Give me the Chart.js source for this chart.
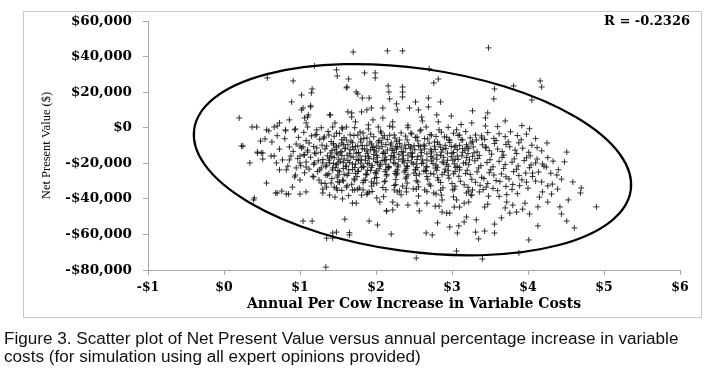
<!DOCTYPE html>
<html>
<head>
<meta charset="utf-8">
<script src="https://cdn.jsdelivr.net/npm/chart.js@4.4.1/dist/chart.umd.min.js"></script>
<style>
  html, body { margin: 0; padding: 0; background: #ffffff; }
  #wrap { position: relative; width: 710px; height: 379px; overflow: hidden; }
  #frame { position: absolute; left: 23px; top: 11px; width: 677px; height: 305px; border: 1px solid #c9c9c9; }
  #chart { position: absolute; left: 0; top: 0; }
  #caption { position: absolute; left: 4px; top: 330px; width: 680px; white-space: nowrap; font-family: "Liberation Sans", Arial, sans-serif; font-size: 16px; line-height: 18.4px; color: #111; transform: scaleX(1.07); transform-origin: 0 0; }
</style>
</head>
<body>
<div id="wrap">
  <div id="frame"></div>
  <canvas id="chart" width="710" height="379"></canvas>
  <div id="caption">Figure 3. Scatter plot of Net Present Value versus annual percentage increase in variable<br>costs (for simulation using all expert opinions provided)</div>
</div>
<script>
// ---- Data (x: annual per cow increase in variable costs, $; y: NPV in $ thousands) ----
const xTicks = [-1, 0, 1, 2, 3, 4, 5, 6];
const yTicks = [-80000, -60000, -40000, -20000, 0, 20000, 40000, 60000];
const correlationLabel = "R = -0.2326";

const upperPoints = [
  [1.70,42.6],[2.15,43.2],[2.35,43.2],[3.48,44.9],[1.85,30.8],[1.99,30.8],[1.99,28.0],[2.70,33.1],
  [2.82,27.4],[2.76,25.2],[4.16,26.3],[4.18,22.9],[3.81,23.5],[3.56,21.8],[4.05,15.6],[3.55,16.2],
  [1.48,32.5],[1.49,29.1],[1.64,27.4],[1.62,22.9],[1.74,20.1],[1.19,34.8],[0.57,28.0],[0.91,26.3],
  [1.16,21.8],[1.15,19.6],[1.02,18.4],[0.89,14.5],[1.14,12.3],[1.02,10.0],[0.20,5.5],[1.10,6.0],
  [1.40,7.2],[1.68,8.3],[1.73,3.3],[0.37,0.4],[0.43,0.4],[0.56,-1.2],[0.66,0.4],[0.73,2.7],
  [0.81,-1.2],[0.93,-1.2],[1.61,22.4],[2.16,23.5],[2.17,20.1],[2.35,22.9],[2.35,20.1],[2.35,17.3],
  [1.76,19.0],[1.82,16.7],[1.91,16.7],[2.18,16.2],[2.27,13.4],[2.28,10.0],[2.52,14.5],[2.69,16.7],
  [2.85,14.5],[2.44,11.1],[2.56,10.0],[2.69,11.7],[2.09,11.1],[1.94,11.1],[1.88,10.0],[1.81,8.9],
  [1.63,8.9],[1.68,6.0],[1.96,4.4],[2.09,5.5],[2.22,3.3],[2.60,6.0],[2.61,3.8],[2.80,7.2],
  [2.82,3.3],[2.99,6.6],[3.27,9.5],[3.26,2.7],[3.44,5.5],[3.47,8.3],[3.44,1.0],[1.04,11.1],
  [1.14,11.7],[0.86,4.4],[1.06,5.5],[1.11,7.2],[1.08,2.7],[1.10,0.4],[1.39,7.2],[1.46,2.7],
  [1.43,0.4],[1.22,-1.2],[1.28,0.0],[0.70,1.0],[0.94,-0.7],[0.59,-1.8],[0.81,-1.8],[3.70,3.8],
  [3.92,1.2],[4.02,-0.6],[3.60,0.6],[3.12,1.8],[2.95,0.2],[2.42,1.4],[2.18,0.9],[1.90,1.6]
];

const topBandPoints = [
  [1.56,-0.7],[1.61,0.4],[1.72,0.0],[1.76,-4.1],[1.61,-6.9],[1.55,-8.6],[1.69,-10.8],[1.83,-3.0],
  [1.90,-0.7],[2.03,0.4],[2.07,-3.0],[2.09,-5.8],[2.03,-8.0],[1.96,-10.8],[1.88,-5.8],[1.80,-8.0],
  [2.22,0.4],[2.24,-4.1],[2.31,-6.9],[2.20,-8.6],[2.28,-10.8],[2.42,0.0],[2.46,-3.0],[2.54,-5.2],
  [2.59,-1.2],[2.66,0.4],[2.73,-4.1],[2.77,-8.0],[2.64,-10.3],[2.46,-10.8],[2.83,-1.2],[2.90,-5.2],
  [2.97,-6.9],[3.03,-10.8],[3.10,-4.1],[3.14,-6.9],[3.20,-10.8],[3.06,-1.2],[3.32,-6.9],[3.39,-5.8],
  [3.45,-10.8],[1.55,0.0],[1.20,-4.1],[1.32,-5.2],[1.38,-4.1],[1.48,-3.0],[0.48,-7.5],[0.54,-6.3],
  [0.63,-8.0],[0.25,-10.3],[0.73,-12.0],[0.86,-10.8],[1.00,-10.3],[1.04,-10.8],[1.22,-11.4],[1.35,-10.3],
  [1.44,-9.7],[0.44,-14.2],[0.49,-14.2],[0.23,-10.3],[0.80,-6.2],[0.70,-4.5]
];

const coreRowsUpper = [
  [1.05,-2.6],[1.22,-3.8],[1.37,-2.1],[1.52,-3.3],[1.66,-4.0],[1.79,-2.4],[1.93,-3.6],[2.06,-2.0],[2.18,-4.2],[2.33,-2.9],
  [2.47,-3.5],[2.58,-1.8],[2.71,-3.9],[2.86,-2.5],[3.02,-3.1],[3.18,-2.2],[3.31,-4.1],[3.47,-2.7],[3.62,-3.4],[3.77,-2.3],
  [0.98,-5.4],[1.15,-4.6],[1.31,-5.9],[1.45,-4.8],[1.58,-5.6],[1.71,-4.4],[1.84,-6.0],[1.97,-5.1],[2.11,-4.5],[2.25,-5.8],
  [2.39,-4.7],[2.52,-5.5],[2.64,-6.1],[2.79,-4.9],[2.93,-5.3],[3.08,-4.3],[3.24,-5.7],[3.39,-4.6],[3.55,-6.0],[3.70,-5.0],[3.86,-4.4],
  [1.08,-7.3],[1.26,-6.5],[1.41,-7.8],[1.55,-6.8],[1.67,-7.5],[1.80,-6.4],[1.92,-8.0],[2.04,-7.1],[2.15,-6.6],[2.27,-7.7],
  [2.41,-6.9],[2.55,-7.4],[2.68,-6.3],[2.81,-8.1],[2.96,-7.0],[3.12,-6.7],[3.27,-7.9],[3.43,-6.6],[3.58,-7.2],[3.74,-8.0],[3.91,-6.8],
  [0.95,-9.2],[1.12,-8.6],[1.29,-9.8],[1.44,-8.9],[1.57,-9.5],[1.69,-8.4],[1.82,-10.0],[1.94,-9.1],[2.07,-8.5],[2.19,-9.7],
  [2.31,-8.8],[2.43,-9.4],[2.56,-10.1],[2.70,-8.7],[2.83,-9.3],[2.97,-8.3],[3.10,-9.9],[3.25,-8.6],[3.40,-9.6],[3.56,-8.9],
  [3.71,-9.4],[3.88,-8.5],[4.05,-9.8],
  [1.02,-11.4],[1.18,-10.6],[1.33,-11.9],[1.48,-10.8],[1.60,-11.6],[1.73,-10.5],[1.85,-12.0],[1.96,-11.2],[2.08,-10.7],[2.21,-11.8],
  [2.33,-10.9],[2.45,-11.5],[2.58,-10.4],[2.72,-12.1],[2.85,-11.0],[2.99,-10.6],[3.14,-11.7],[3.28,-10.8],[3.44,-11.3],[3.60,-12.0],
  [3.76,-10.7],[3.93,-11.5],
  [0.91,-13.3],[1.10,-12.6],[1.27,-13.8],[1.42,-12.9],[1.55,-13.5],[1.66,-12.4],[1.77,-14.0],[1.88,-13.1],[1.98,-12.7],[2.10,-13.7],
  [2.22,-12.8],[2.34,-13.4],[2.46,-14.1],[2.59,-12.5],[2.73,-13.2],[2.88,-12.3],[3.02,-13.9],[3.17,-12.7],[3.33,-13.6],[3.49,-12.9],
  [3.66,-13.4],[3.83,-12.6],[4.01,-13.8],[4.18,-13.0],
  [1.05,-15.2],[1.21,-14.6],[1.36,-15.8],[1.50,-14.8],[1.62,-15.5],[1.74,-14.4],[1.86,-16.0],[1.97,-15.1],[2.09,-14.5],[2.20,-15.7],
  [2.30,-14.9],[2.42,-15.4],[2.55,-16.1],[2.67,-14.7],[2.80,-15.3],[2.94,-14.3],[3.07,-15.9],[3.21,-14.6],[3.36,-15.6],[3.52,-14.9],
  [3.68,-15.4],[3.85,-14.5],[4.03,-15.8]
];

const coreRowsMiddle = [
  [0.97,-17.4],[1.14,-16.6],[1.30,-17.9],[1.45,-16.8],[1.58,-17.6],[1.70,-16.5],[1.81,-18.0],[1.91,-17.2],[2.02,-16.7],[2.13,-17.8],
  [2.24,-16.9],[2.36,-17.5],[2.48,-16.4],[2.61,-18.1],[2.75,-17.0],[2.89,-16.6],[3.04,-17.7],[3.19,-16.8],[3.34,-17.3],[3.50,-18.0],
  [3.66,-16.7],[3.82,-17.5],[3.98,-16.9],[4.12,-17.6],[4.26,-16.8],
  [1.08,-19.3],[1.24,-18.6],[1.39,-19.8],[1.53,-18.9],[1.65,-19.5],[1.77,-18.4],[1.89,-20.0],[2.00,-19.1],[2.11,-18.5],[2.23,-19.7],
  [2.35,-18.8],[2.47,-19.4],[2.60,-20.1],[2.73,-18.7],[2.87,-19.3],[3.01,-18.3],[3.15,-19.9],[3.30,-18.6],[3.46,-19.6],[3.62,-18.9],
  [3.79,-19.4],[3.95,-18.5],[4.10,-19.8],
  [1.01,-21.4],[1.18,-20.6],[1.34,-21.9],[1.48,-20.8],[1.61,-21.6],[1.73,-20.5],[1.84,-22.0],[1.95,-21.2],[2.06,-20.7],[2.17,-21.8],
  [2.29,-20.9],[2.41,-21.5],[2.53,-20.4],[2.66,-22.1],[2.79,-21.0],[2.93,-20.6],[3.07,-21.7],[3.22,-20.8],[3.38,-21.3],[3.54,-22.0],
  [3.70,-20.7],[3.87,-21.5],[4.04,-20.9],[4.21,-21.6],
  [1.12,-23.3],[1.28,-22.6],[1.43,-23.8],[1.57,-22.9],[1.69,-23.5],[1.81,-22.4],[1.93,-24.0],[2.04,-23.1],[2.16,-22.5],[2.28,-23.7],
  [2.40,-22.8],[2.52,-23.4],[2.65,-24.1],[2.78,-22.7],[2.91,-23.3],[3.05,-22.3],[3.20,-23.9],[3.35,-22.6],[3.51,-23.6],[3.68,-22.9],
  [3.85,-23.4],[4.02,-22.5],
  [1.06,-25.4],[1.23,-24.6],[1.38,-25.9],[1.52,-24.8],[1.64,-25.6],[1.76,-24.5],[1.87,-26.0],[1.99,-25.2],[2.12,-24.7],[2.25,-25.8],
  [2.37,-24.9],[2.50,-25.5],[2.63,-24.4],[2.76,-26.1],[2.90,-25.0],[3.04,-24.6],[3.18,-25.7],[3.33,-24.8],[3.49,-25.3],[3.65,-26.0],
  [3.81,-24.7],[3.97,-25.5],[4.14,-24.9],[4.30,-25.6]
];

const coreRowsLower = [
  [1.17,-27.3],[1.34,-26.6],[1.49,-27.8],[1.62,-26.9],[1.75,-27.5],[1.88,-26.4],[2.01,-28.0],[2.14,-27.1],[2.27,-26.5],[2.40,-27.7],
  [2.53,-26.8],[2.67,-27.4],[2.81,-28.1],[2.95,-26.7],[3.09,-27.3],[3.24,-26.3],[3.39,-27.9],[3.55,-26.6],[3.71,-27.6],[3.88,-26.9],[4.06,-27.4],
  [1.25,-29.4],[1.42,-28.6],[1.57,-29.9],[1.71,-28.8],[1.84,-29.6],[1.98,-28.5],[2.12,-30.0],[2.26,-29.2],[2.39,-28.7],[2.53,-29.8],
  [2.68,-28.9],[2.82,-29.5],[2.96,-28.4],[3.11,-30.1],[3.26,-29.0],[3.42,-28.6],[3.58,-29.7],[3.75,-28.8],[3.92,-29.3],[4.10,-30.0],
  [1.33,-31.3],[1.52,-30.6],[1.68,-31.8],[1.83,-30.9],[1.97,-31.5],[2.11,-30.4],[2.26,-32.0],[2.41,-31.1],[2.55,-30.5],[2.70,-31.7],
  [2.85,-30.8],[3.00,-31.4],[3.16,-32.1],[3.31,-30.7],[3.47,-31.3],[3.63,-30.3],[3.80,-31.9],[3.98,-30.6],
  [1.45,-33.4],[1.62,-32.6],[1.78,-33.9],[1.94,-32.8],[2.09,-33.6],[2.24,-32.5],[2.40,-34.0],[2.56,-33.2],[2.72,-32.7],[2.88,-33.8],
  [3.04,-32.9],[3.21,-33.5],[3.37,-32.4],[3.54,-34.1],[3.71,-33.0],[3.89,-32.6],
  [1.55,-35.3],[1.76,-34.6],[1.95,-35.8],[2.13,-34.9],[2.31,-35.5],[2.49,-34.4],[2.67,-36.0],[2.85,-35.1],[3.03,-34.5],[3.22,-35.7],
  [3.41,-34.8],[3.60,-35.4],[3.79,-34.7],
  [1.64,-38.2],[1.88,-37.5],[2.10,-38.8],[2.33,-37.7],[2.56,-38.4],[2.79,-37.3],[3.02,-38.9],[3.25,-37.9],[3.48,-38.5],[3.72,-37.6]
];

const coreDensePoints = [
  [1.51,-10.2],[1.63,-9.6],[1.76,-10.4],[1.88,-9.9],[2.01,-10.3],[2.13,-9.5],[2.26,-10.5],[2.38,-9.8],[2.50,-10.1],[2.63,-9.7],
  [2.77,-10.4],[2.91,-9.9],[3.05,-10.2],[3.19,-9.6],
  [1.46,-12.1],[1.59,-11.7],[1.71,-12.4],[1.82,-11.9],[1.93,-12.3],[2.04,-11.6],[2.15,-12.5],[2.27,-12.0],[2.39,-11.8],[2.51,-12.4],
  [2.64,-11.9],[2.78,-12.2],[2.92,-11.7],[3.07,-12.3],[3.22,-11.8],
  [1.40,-14.2],[1.53,-13.7],[1.65,-14.4],[1.77,-13.9],[1.89,-14.3],[2.00,-13.6],[2.12,-14.5],[2.24,-14.0],[2.36,-13.8],[2.48,-14.4],
  [2.60,-13.9],[2.73,-14.2],[2.86,-13.7],[3.00,-14.3],[3.14,-13.8],[3.29,-14.1],
  [1.42,-16.1],[1.55,-15.7],[1.67,-16.4],[1.79,-15.9],[1.90,-16.3],[2.01,-15.6],[2.12,-16.5],[2.23,-16.0],[2.35,-15.8],[2.47,-16.4],
  [2.59,-15.9],[2.72,-16.2],[2.85,-15.7],[2.99,-16.3],[3.13,-15.8],[3.27,-16.1],
  [1.38,-18.2],[1.51,-17.7],[1.63,-18.4],[1.75,-17.9],[1.86,-18.3],[1.97,-17.6],[2.08,-18.5],[2.19,-18.0],[2.30,-17.8],[2.42,-18.4],
  [2.54,-17.9],[2.67,-18.2],[2.80,-17.7],[2.94,-18.3],[3.08,-17.8],[3.23,-18.1],
  [1.44,-20.1],[1.57,-19.7],[1.69,-20.4],[1.80,-19.9],[1.91,-20.3],[2.02,-19.6],[2.13,-20.5],[2.25,-20.0],[2.37,-19.8],[2.49,-20.4],
  [2.62,-19.9],[2.75,-20.2],[2.89,-19.7],[3.03,-20.3],[3.18,-19.8],
  [1.47,-22.2],[1.60,-21.7],[1.72,-22.4],[1.83,-21.9],[1.94,-22.3],[2.05,-21.6],[2.17,-22.5],[2.29,-22.0],[2.41,-21.8],[2.54,-22.4],
  [2.67,-21.9],[2.81,-22.2],[2.95,-21.7],[3.10,-22.3],
  [1.50,-24.1],[1.64,-23.7],[1.77,-24.4],[1.89,-23.9],[2.01,-24.3],[2.13,-23.6],[2.26,-24.5],[2.39,-24.0],[2.52,-23.8],[2.66,-24.4],
  [2.80,-23.9],[2.95,-24.2],[3.10,-23.7],
  [1.58,-26.2],[1.73,-25.7],[1.87,-26.4],[2.00,-25.9],[2.14,-26.3],[2.28,-25.6],[2.42,-26.5],[2.57,-26.0],[2.72,-25.8],[2.87,-26.4],[3.02,-25.9]
];

const leftLowerPoints = [
  [0.44,-13.7],[0.51,-14.2],[0.62,-15.9],[0.66,-15.9],[0.34,-19.8],[0.51,-17.6],[0.69,-19.8],[0.77,-18.1],
  [0.73,-23.7],[0.82,-23.7],[0.84,-21.6],[0.95,-22.6],[0.94,-26.6],[0.93,-27.7],[1.00,-29.4],[0.56,-31.1],
  [0.68,-36.7],[0.70,-36.7],[0.76,-35.6],[0.82,-37.3],[0.85,-37.3],[0.90,-33.4],[1.00,-37.3],[1.08,-36.1],
  [0.86,-18.1],[0.88,-15.9],[1.00,-15.9],[1.06,-15.4],[1.10,-13.7],[1.19,-14.2],[1.00,-19.8],[1.08,-22.1],
  [1.19,-19.8],[1.18,-27.7],[1.26,-23.7],[1.30,-19.8],[1.35,-21.0],[1.39,-17.0],[1.48,-14.2],[1.43,-22.6],
  [1.36,-26.6],[1.28,-31.1],[1.35,-33.4],[1.41,-31.1],[1.50,-30.5],[1.30,-36.7],[1.39,-37.9],[1.46,-39.0],
  [1.48,-33.9],[1.49,-35.0],[1.30,-34.5],[1.50,-26.6],[1.50,-19.8],[0.39,-40.6],[0.40,-39.5],
  [1.04,-52.5],[1.16,-52.5],[1.48,-58.7],[1.43,-62.1],[1.35,-62.1],[1.34,-78.4]
];

const bottomPoints = [
  [1.56,-40.0],[1.69,-42.4],[1.74,-42.4],[1.69,-35.0],[1.61,-33.4],[1.83,-35.0],[1.91,-36.1],[2.01,-31.1],
  [1.94,-30.5],[2.05,-41.8],[2.14,-46.8],[2.22,-41.8],[2.28,-43.5],[2.42,-43.5],[2.54,-42.4],[2.57,-46.8],
  [2.67,-42.4],[2.78,-44.1],[2.83,-44.1],[2.87,-47.4],[2.93,-48.0],[2.97,-48.0],[3.03,-44.6],[3.10,-44.6],
  [3.16,-42.4],[3.22,-41.8],[3.19,-50.2],[3.43,-44.6],[3.47,-43.0],[2.87,-40.6],[2.86,-37.9],[2.40,-36.1],
  [2.28,-36.1],[2.35,-32.8],[2.24,-35.0],[2.53,-34.5],[2.64,-35.0],[2.76,-36.7],[1.56,-29.4],[1.72,-29.4],
  [1.86,-29.4],[1.72,-35.0],[1.81,-37.9],[1.89,-36.7],[3.01,-35.0],[3.19,-36.7],[3.27,-35.0],[3.36,-36.1],
  [3.45,-33.4],[3.06,-40.6],[3.26,-37.9],
  [1.59,-51.4],[1.65,-60.3],[1.91,-52.5],[2.02,-54.7],[2.01,-39.5],[2.14,-46.8],[2.22,-46.2],[2.20,-59.8],
  [2.53,-73.3],[2.66,-59.2],[2.74,-60.3],[2.81,-53.5],[2.97,-55.8],[3.06,-69.3],[3.07,-59.2],[3.09,-55.2],
  [3.16,-53.0],[3.31,-58.7],[3.35,-62.5],[3.32,-51.8],[3.43,-58.1],[3.40,-73.8],[1.43,-59.2],[1.65,-59.0]
];

const rightPoints = [
  [4.01,-63.1],[4.13,-55.2],[4.61,-56.3],[4.90,-44.5],[4.51,-52.5],[4.44,-48.5],[4.42,-44.5],[4.53,-40.6],
  [4.70,-33.9],[4.69,-36.7],[4.59,-30.5],[4.38,-26.6],[4.44,-28.9],[4.39,-34.5],[4.31,-37.3],[4.26,-41.8],
  [4.13,-44.5],[4.02,-48.5],[3.93,-45.8],[3.85,-47.4],[3.76,-48.0],[3.65,-50.7],[3.56,-54.2],[3.56,-59.2],
  [3.88,-70.4],[4.51,-13.7],[4.19,-20.4],[4.24,-22.1],[4.06,-25.5],[4.18,-30.5],[4.19,-36.1],[4.26,-32.7],
  [4.32,-31.7],[4.15,-39.0],[3.96,-42.4],[3.80,-43.5],[3.72,-41.8],[4.33,-18.8],[4.40,-23.6],[4.12,-11.2],
  [4.25,-8.6],[4.48,-19.2],[3.98,-3.6],[4.10,-6.1],[3.62,-38.6],[3.86,-37.1],[4.00,-34.0],[3.70,-45.1]
];

const pointGroups = [upperPoints, topBandPoints, coreRowsUpper, coreRowsMiddle, coreRowsLower,
                     coreDensePoints, leftLowerPoints, bottomPoints, rightPoints];

// Ellipse annotation (centre in data units, semi-axes in data units along x / y, tilt in degrees)
const ellipseCenter = [2.48, -18000];
const ellipseSemiAxisX = 2.90;
const ellipseSemiAxisY = 51500;
const ellipseTiltDeg = 7.9;

const scatterData = [];
pointGroups.forEach(g => g.forEach(p => scatterData.push({ x: p[0], y: p[1] * 1000 })));

const serifFamily = "'DejaVu Serif', 'Liberation Serif', serif";
const xTickFont = { family: serifFamily, weight: 'bold', size: 12.5 };
const yTickFont = { family: serifFamily, weight: 'bold', size: 13.5 };
const xTitleFont = { family: serifFamily, weight: 'bold', size: 14 };

const money = v => (v < 0 ? '-' : '') + '$' + Math.abs(v).toLocaleString('en-US');

const ellipsePlugin = {
  id: 'ellipseAndR',
  afterDatasetsDraw(chart) {
    const { ctx, scales: { x, y }, chartArea } = chart;
    const cx = x.getPixelForValue(ellipseCenter[0]);
    const cy = y.getPixelForValue(ellipseCenter[1]);
    const rx = Math.abs(x.getPixelForValue(ellipseCenter[0] + ellipseSemiAxisX) - cx);
    const ry = Math.abs(y.getPixelForValue(ellipseCenter[1] - ellipseSemiAxisY) - cy);
    ctx.save();
    ctx.beginPath();
    ctx.ellipse(cx, cy, rx, ry, ellipseTiltDeg * Math.PI / 180, 0, Math.PI * 2);
    ctx.lineWidth = 2.2;
    ctx.strokeStyle = '#000';
    ctx.stroke();
    ctx.font = "bold 13px " + serifFamily;
    ctx.fillStyle = '#000';
    ctx.textAlign = 'right';
    ctx.textBaseline = 'middle';
    ctx.fillText(correlationLabel, chartArea.right + 10, chartArea.top + 0.5);
    ctx.restore();
  }
};

new Chart(document.getElementById('chart'), {
  type: 'scatter',
  data: {
    datasets: [{
      data: scatterData,
      pointStyle: 'cross',
      pointRadius: 3,
      pointBorderWidth: 1,
      borderColor: 'rgba(20,20,20,0.85)',
      backgroundColor: 'rgba(20,20,20,0.85)'
    }]
  },
  options: {
    responsive: false,
    animation: false,
    layout: { padding: { left: 0, top: 21, right: 30, bottom: 63 } },
    plugins: { legend: { display: false }, tooltip: { enabled: false } },
    scales: {
      x: {
        type: 'linear',
        min: -1, max: 6,
        afterBuildTicks: s => { s.ticks = xTicks.map(v => ({ value: v })); },
        afterFit: s => { s.height = 46; },
        border: { color: '#a8a8a8', width: 1 },
        grid: { drawOnChartArea: false, drawTicks: true, tickLength: 5, tickColor: '#a8a8a8' },
        ticks: { color: '#000', font: xTickFont, padding: 5, callback: v => money(v), maxRotation: 0 },
        title: { display: true, text: 'Annual Per Cow Increase in Variable Costs', color: '#000',
                 font: xTitleFont, padding: { top: 0, bottom: 3 } }
      },
      y: {
        type: 'linear',
        min: -80000, max: 60000,
        afterBuildTicks: s => { s.ticks = yTicks.map(v => ({ value: v })); },
        afterFit: s => { s.width = 148; },
        border: { color: '#a8a8a8', width: 1 },
        grid: { drawOnChartArea: false, drawTicks: true, tickLength: 5, tickColor: '#a8a8a8' },
        ticks: { color: '#000', font: yTickFont, padding: 11, callback: v => money(v) },
        title: { display: true, text: 'Net Present Value ($)', color: '#000',
                 font: { family: "'Liberation Serif', serif", size: 12.5 }, padding: { top: 39, bottom: 0 } }
      }
    }
  },
  plugins: [ellipsePlugin]
});
</script>
</body>
</html>
